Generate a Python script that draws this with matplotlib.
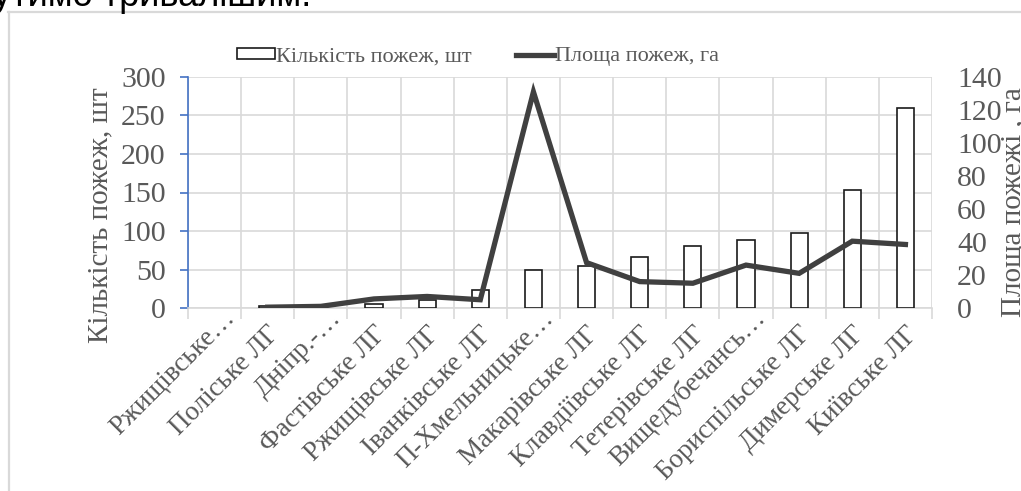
import matplotlib
matplotlib.use("Agg")
import matplotlib.pyplot as plt
import matplotlib.transforms as mtransforms
import numpy as np
from matplotlib.lines import Line2D
from matplotlib.patches import Patch

# ---- data ----
forestries = [
    "Ржищівське…", "Поліське ЛГ", "Дніпр.-…", "Фастівське ЛГ",
    "Ржищівське ЛГ", "Іванківське ЛГ", "П-Хмельницьке…", "Макарівське ЛГ",
    "Клавдіївське ЛГ", "Тетерівське ЛГ", "Вищедубечансь…", "Бориспільське ЛГ",
    "Димерське ЛГ", "Київське ЛГ",
]
fire_count = [np.nan, 3, np.nan, 5, 11, 23, 50, 55, 66, 80, 88, 97, 153, 260]
fire_area = [np.nan, 0.5, 1, 5.5, 7, 5, 131, 27.5, 16, 15, 26, 21, 40.5, 38.5]

GRAY = "#595959"
SERIF = "Liberation Serif"

W, H = 1021, 491
fig = plt.figure(figsize=(W / 100, H / 100), dpi=100)

# plot area in pixels
left, right, top, bottom = 188, 932, 77, 308
ax = fig.add_axes([left / W, 1 - bottom / H, (right - left) / W, (bottom - top) / H])
ax2 = ax.twinx()

x = np.arange(len(forestries))

ax.bar(x, fire_count, width=0.32, facecolor="white", edgecolor="#1a1a1a",
       linewidth=1.2, zorder=3)
ax2.plot(x, fire_area, color="#404040", linewidth=3.8, solid_joinstyle="miter",
         zorder=4)

ax.set_xlim(-0.5, len(forestries) - 0.5)
ax.set_ylim(0, 300)
ax2.set_ylim(0, 140)
ax.set_yticks(np.arange(0, 301, 50))
ax2.set_yticks(np.arange(0, 141, 20))

# gridlines on category borders, labels drawn separately below
ax.set_xticks(np.arange(-0.5, len(forestries)))
ax.set_xticklabels([])
ax.tick_params(axis="x", length=8, color="#d9d9d9", width=1.2)
ax.grid(True, axis="both", color="#d9d9d9", linewidth=1.2, zorder=0)
ax.set_axisbelow(True)

# rotated category labels, end of text near the category centre;
# truncated names sit a little higher and further right
base_trans = mtransforms.blended_transform_factory(ax.transData, ax.transAxes)
for xi, name in zip(x, forestries):
    dx, dy = (13, -27) if not name.endswith("…") else (21, -11)
    t = base_trans + mtransforms.ScaledTranslation(dx / 100, dy / 100,
                                                   fig.dpi_scale_trans)
    ax.text(xi, 0, name, transform=t, rotation=45, ha="right",
            va="baseline", rotation_mode="anchor", fontfamily=SERIF,
            fontsize=19.5, color=GRAY, clip_on=False)

ax.tick_params(axis="y", length=6, color="#4472c4", width=1.2, pad=10,
               labelsize=21.5, labelcolor=GRAY)
for lab in ax.get_yticklabels():
    lab.set_fontfamily(SERIF)
ax2.tick_params(axis="y", length=0, pad=18, labelsize=21.5, labelcolor=GRAY)
for lab in ax2.get_yticklabels():
    lab.set_fontfamily(SERIF)

for a in (ax, ax2):
    for s in a.spines.values():
        s.set_visible(False)
ax.spines["left"].set_visible(True)
ax.spines["left"].set_color("#4472c4")
ax.spines["left"].set_linewidth(1.2)
ax.spines["bottom"].set_visible(True)
ax.spines["bottom"].set_color("#d9d9d9")
ax.spines["bottom"].set_linewidth(1.2)

# axis titles
fig.text(100 / W, 1 - 215 / H, "Кількість пожеж, шт", rotation=90,
         ha="center", va="center", fontfamily=SERIF, fontsize=21, color=GRAY)
fig.text(1014 / W, 1 - 317 / H, "Площа пожежі , га", rotation=90,
         ha="center", va="bottom", fontfamily=SERIF, fontsize=21, color=GRAY)

# legend
handles = [
    Patch(facecolor="white", edgecolor="#1a1a1a", linewidth=1.2),
    Line2D([0], [0], color="#404040", linewidth=3.8),
]
leg = fig.legend(handles, ["Кількість пожеж, шт", "Площа пожеж, га"],
                 loc="center", bbox_to_anchor=(478 / W, 1 - 57 / H), ncol=2,
                 frameon=False, handlelength=1.7, handleheight=0.4,
                 handletextpad=0.05, columnspacing=2.0,
                 prop={"family": SERIF, "size": 16})
for t in leg.get_texts():
    t.set_color(GRAY)

# chart frame (only top and left edges fall inside the image)
fig.add_artist(Line2D([8.5 / W, 8.5 / W], [0, 1 - 12 / H], color="#d9d9d9",
                      linewidth=1.6, transform=fig.transFigure))
fig.add_artist(Line2D([8 / W, 1], [1 - 12 / H, 1 - 12 / H], color="#d9d9d9",
                      linewidth=1.6, transform=fig.transFigure))

# tail of the paragraph text above the chart
fig.text(311 / W, 1 - 6 / H, "утимо тривалішим.", ha="right", va="baseline",
         fontfamily="Liberation Sans", fontsize=26, color="black")

fig.savefig("out.png", dpi=100)
